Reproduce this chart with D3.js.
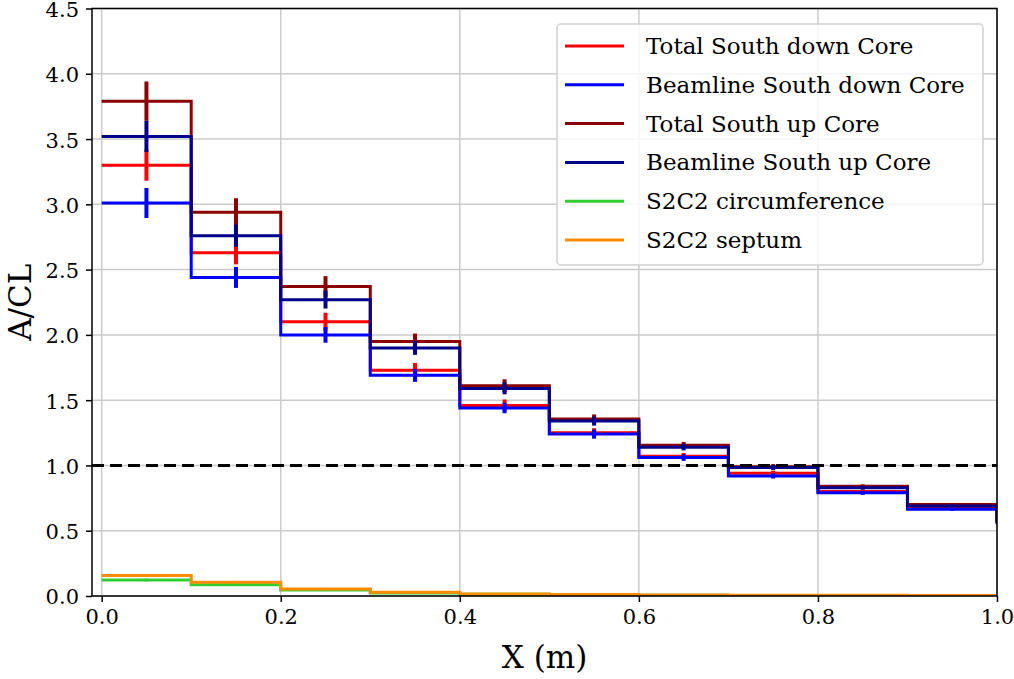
<!DOCTYPE html>
<html>
<head>
<meta charset="utf-8">
<script src="https://cdn.jsdelivr.net/npm/d3@7"></script>
<style>
  body { margin: 0; background: #fff; }
  text { font-family: "DejaVu Serif", serif; fill: #000; }
</style>
</head>
<body>
<div id="chart"></div>
<script>
// bin edges (left edge of each bin), last point closes the step at x = 1.0
const binEdges = [0.0, 0.1, 0.2, 0.3, 0.4, 0.5, 0.6, 0.7, 0.8, 0.9, 1.0];
const binCenters = [0.05, 0.15, 0.25, 0.35, 0.45, 0.55, 0.65, 0.75, 0.85, 0.95];

const seriesNames = ["Total South down Core", "Beamline South down Core", "Total South up Core",
    "Beamline South up Core", "S2C2 circumference", "S2C2 septum"];
const seriesColors = ["#ff0000", "#0000ff", "#8b0000", "#00008b", "#32cd32", "#ff8c00"];

const totalDown = [3.30, 2.63, 2.10, 1.73, 1.46, 1.25, 1.07, 0.94, 0.80, 0.68, 0.56];
const beamDown = [3.01, 2.44, 2.00, 1.69, 1.44, 1.24, 1.06, 0.92, 0.79, 0.665, 0.55];
const totalUp = [3.79, 2.94, 2.37, 1.95, 1.61, 1.355, 1.155, 0.99, 0.84, 0.70, 0.57];
const beamUp = [3.52, 2.76, 2.27, 1.90, 1.59, 1.34, 1.14, 0.985, 0.83, 0.69, 0.56];
const circumference = [0.122, 0.087, 0.046, 0.023, 0.013, 0.009, 0.006, 0.004, 0.003, 0.002, 0.002];
const septum = [0.157, 0.106, 0.054, 0.028, 0.016, 0.011, 0.008, 0.006, 0.005, 0.004, 0.004];

const errTotalDown = [0.12, 0.09, 0.07, 0.055, 0.045, 0.035, 0.025, 0.02, 0.015, 0.012];
const errBeamDown = [0.115, 0.08, 0.06, 0.05, 0.04, 0.035, 0.025, 0.02, 0.015, 0.012];
const errTotalUp = [0.15, 0.107, 0.08, 0.06, 0.05, 0.036, 0.025, 0.02, 0.015, 0.012];
const errBeamUp = [0.12, 0.085, 0.068, 0.053, 0.045, 0.035, 0.025, 0.02, 0.015, 0.012];
const errCircumference = [0.01, 0.006, 0.004, 0.003, 0.002, 0.001, 0.001, 0.001, 0.001, 0.001];
const errSeptum = [0.01, 0.006, 0.004, 0.003, 0.002, 0.001, 0.001, 0.001, 0.001, 0.001];

const xTicks = [0.0, 0.2, 0.4, 0.6, 0.8, 1.0];
const yTicks = [0.0, 0.5, 1.0, 1.5, 2.0, 2.5, 3.0, 3.5, 4.0, 4.5];
const refLevel = 1.0;

const values = [totalDown, beamDown, totalUp, beamUp, circumference, septum];
const errors = [errTotalDown, errBeamDown, errTotalUp, errBeamUp, errCircumference, errSeptum];

const width = 1014, height = 679;
const plotLeft = 92, plotRight = 997, plotTop = 8.5, plotBottom = 596;

const svg = d3.select("#chart").append("svg")
    .attr("width", width)
    .attr("height", height);

const xScale = d3.scaleLinear().domain([-0.0108, 1.0]).range([plotLeft, plotRight]);
const yScale = d3.scaleLinear().domain([0, 4.5]).range([plotBottom, plotTop]);

svg.append("clipPath").attr("id", "plotclip")
    .append("rect")
    .attr("x", plotLeft).attr("y", plotTop)
    .attr("width", plotRight - plotLeft).attr("height", plotBottom - plotTop);

// grid
const grid = svg.append("g").attr("stroke", "#cbcbcb").attr("stroke-width", 1.5);
grid.selectAll(".gx").data(xTicks).enter().append("line")
    .attr("x1", d => xScale(d)).attr("x2", d => xScale(d))
    .attr("y1", plotTop).attr("y2", plotBottom);
grid.selectAll(".gy").data(yTicks).enter().append("line")
    .attr("x1", plotLeft).attr("x2", plotRight)
    .attr("y1", d => yScale(d)).attr("y2", d => yScale(d));

const plot = svg.append("g").attr("clip-path", "url(#plotclip)");

const stepLine = d3.line()
    .x(d => xScale(d[0]))
    .y(d => yScale(d[1]))
    .curve(d3.curveStepAfter);

values.forEach((vals, s) => {
    const pts = binEdges.map((e, i) => [e, vals[i]]);
    plot.append("path")
        .attr("d", stepLine(pts))
        .attr("fill", "none")
        .attr("stroke", seriesColors[s])
        .attr("stroke-width", 3);

    plot.selectAll(".err" + s)
        .data(binCenters)
        .enter()
        .append("line")
        .attr("x1", d => xScale(d)).attr("x2", d => xScale(d))
        .attr("y1", (d, i) => yScale(vals[i] + errors[s][i]))
        .attr("y2", (d, i) => yScale(vals[i] - errors[s][i]))
        .attr("stroke", seriesColors[s])
        .attr("stroke-width", 4);
});

// reference line at 1
plot.append("line")
    .attr("x1", plotLeft).attr("x2", plotRight)
    .attr("y1", yScale(refLevel)).attr("y2", yScale(refLevel))
    .attr("stroke", "#000")
    .attr("stroke-width", 3)
    .attr("stroke-dasharray", "12,6");

// axes
const xAxis = d3.axisBottom(xScale).tickValues(xTicks).tickFormat(d3.format(".1f")).tickSize(6).tickPadding(6);
const yAxis = d3.axisLeft(yScale).tickValues(yTicks).tickFormat(d3.format(".1f")).tickSize(6).tickPadding(7);

const gx = svg.append("g").attr("transform", `translate(0, ${plotBottom})`).call(xAxis);
const gy = svg.append("g").attr("transform", `translate(${plotLeft}, 0)`).call(yAxis);
[gx, gy].forEach(g => {
    g.select(".domain").remove();
    g.selectAll(".tick line").attr("stroke", "#000").attr("stroke-width", 1.5);
    g.selectAll(".tick text").style("font-size", "21px");
});
gx.selectAll(".tick text").attr("dy", "0.76em");
gy.selectAll(".tick text").attr("dy", "0.38em");

// spines
svg.append("rect")
    .attr("x", plotLeft).attr("y", plotTop)
    .attr("width", plotRight - plotLeft).attr("height", plotBottom - plotTop)
    .attr("fill", "none")
    .attr("stroke", "#000")
    .attr("stroke-width", 1.5);

// axis labels
svg.append("text")
    .attr("x", (plotLeft + plotRight) / 2)
    .attr("y", 668)
    .attr("text-anchor", "middle")
    .style("font-size", "31px")
    .text("X (m)");

svg.append("text")
    .attr("transform", `translate(31, ${(plotTop + plotBottom) / 2}) rotate(-90)`)
    .attr("text-anchor", "middle")
    .style("font-size", "31px")
    .text("A/CL");

// legend
const legend = svg.append("g");
legend.append("rect")
    .attr("x", 557).attr("y", 24)
    .attr("width", 426).attr("height", 241)
    .attr("rx", 4)
    .attr("fill", "#fff").attr("fill-opacity", 0.8)
    .attr("stroke", "#d0d0d0").attr("stroke-width", 1.5);

seriesNames.forEach((name, i) => {
    const yy = 46 + i * 38.8;
    legend.append("line")
        .attr("x1", 565).attr("x2", 624)
        .attr("y1", yy).attr("y2", yy)
        .attr("stroke", seriesColors[i])
        .attr("stroke-width", 3);
    legend.append("text")
        .attr("x", 646)
        .attr("y", yy + 8)
        .style("font-size", "23px")
        .text(name);
});
</script>
</body>
</html>
